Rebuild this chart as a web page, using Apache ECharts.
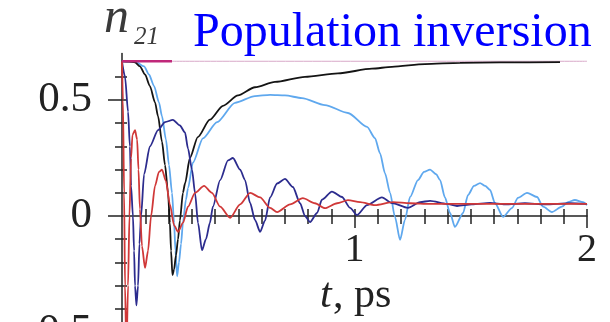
<!DOCTYPE html>
<html><head><meta charset="utf-8">
<script src="https://cdn.jsdelivr.net/npm/echarts@6/dist/echarts.min.js"></script>
<style>html,body{margin:0;padding:0;background:#fff}#c{width:610px;height:322px}</style>
</head><body><div id="c"></div>
<script>
// time (ps) and population inversion n21 for each curve
const tBlack = [0, 0.03, 0.056, 0.077, 0.099, 0.12, 0.142, 0.155, 0.172, 0.185, 0.198, 0.206, 0.211, 0.217, 0.224, 0.232, 0.241, 0.249, 0.262, 0.271, 0.292, 0.326, 0.378, 0.434, 0.499, 0.572, 0.658, 0.787, 0.929, 1.075, 1.161, 1.303, 1.454, 1.626, 1.884];
const nBlack = [0.667, 0.666, 0.662, 0.645, 0.61, 0.56, 0.49, 0.43, 0.32, 0.22, 0.1, -0.03, -0.15, -0.255, -0.23, -0.17, -0.1, -0.02, 0.1, 0.14, 0.25, 0.34, 0.415, 0.475, 0.52, 0.555, 0.578, 0.6, 0.615, 0.635, 0.643, 0.655, 0.66, 0.662, 0.663];

const tBlue = [0, 0.056, 0.095, 0.116, 0.138, 0.159, 0.172, 0.189, 0.202, 0.215, 0.224, 0.23, 0.237, 0.245, 0.254, 0.262, 0.275, 0.284, 0.305, 0.348, 0.409, 0.486, 0.572, 0.637, 0.701, 0.774, 0.873, 0.972, 1.054, 1.088, 1.11, 1.131, 1.153, 1.174, 1.196, 1.217, 1.239, 1.273, 1.299, 1.325, 1.351, 1.368, 1.389, 1.411, 1.432, 1.467, 1.488, 1.514, 1.54, 1.562, 1.583, 1.604, 1.639, 1.677, 1.703, 1.742, 1.785, 1.811, 1.849, 1.892, 1.918, 1.948, 1.983, 2.0];
const nBlue = [0.667, 0.666, 0.645, 0.61, 0.56, 0.49, 0.43, 0.33, 0.22, 0.1, -0.03, -0.15, -0.26, -0.2, -0.12, -0.03, 0.07, 0.12, 0.23, 0.335, 0.405, 0.488, 0.517, 0.522, 0.52, 0.508, 0.478, 0.444, 0.384, 0.336, 0.27, 0.185, 0.1, -0.004, -0.103, -0.017, 0.082, 0.155, 0.19, 0.2, 0.18, 0.155, 0.08, 0.013, -0.047, 0.013, 0.09, 0.13, 0.142, 0.13, 0.112, 0.056, -0.004, 0.034, 0.078, 0.1, 0.082, 0.04, 0.017, 0.04, 0.06, 0.069, 0.06, 0.047];

const tNavy = [0, 0.013, 0.026, 0.034, 0.039, 0.047, 0.052, 0.056, 0.062, 0.069, 0.075, 0.082, 0.095, 0.12, 0.155, 0.185, 0.219, 0.249, 0.271, 0.284, 0.301, 0.314, 0.327, 0.344, 0.361, 0.378, 0.391, 0.422, 0.456, 0.477, 0.508, 0.529, 0.551, 0.572, 0.594, 0.615, 0.637, 0.667, 0.701, 0.735, 0.766, 0.787, 0.809, 0.839, 0.86, 0.903, 0.946, 0.981, 1.011, 1.054, 1.118, 1.161, 1.23, 1.282, 1.325, 1.398, 1.441, 1.505, 1.583, 1.647, 1.733, 1.819, 1.927, 2.0];
const nNavy = [0.667, 0.6, 0.45, 0.3, 0.13, 0.0, -0.15, -0.3, -0.385, -0.3, -0.12, 0.0, 0.18, 0.3, 0.37, 0.405, 0.414, 0.39, 0.36, 0.29, 0.2, 0.1, -0.03, -0.148, -0.1, -0.03, 0.04, 0.155, 0.24, 0.25, 0.2, 0.155, 0.056, -0.017, -0.068, -0.02, 0.08, 0.14, 0.16, 0.125, 0.055, 0.0, -0.026, 0.013, 0.07, 0.105, 0.082, 0.035, 0.004, 0.047, 0.08, 0.056, 0.035, 0.06, 0.065, 0.052, 0.043, 0.05, 0.057, 0.05, 0.055, 0.05, 0.055, 0.052];

const tRed = [0, 0.004, 0.009, 0.013, 0.019, 0.026, 0.032, 0.039, 0.045, 0.056, 0.065, 0.071, 0.077, 0.086, 0.099, 0.112, 0.125, 0.142, 0.159, 0.172, 0.189, 0.206, 0.224, 0.241, 0.262, 0.284, 0.314, 0.353, 0.387, 0.422, 0.465, 0.508, 0.551, 0.594, 0.637, 0.667, 0.723, 0.778, 0.83, 0.873, 0.925, 0.972, 1.024, 1.088, 1.166, 1.239, 1.325, 2.0];
const nRed = [0.667, 0.5, 0.1, -0.3, -0.6, -0.3, 0.0, 0.25, 0.35, 0.37, 0.33, 0.2, 0.03, -0.13, -0.224, -0.15, 0.0, 0.13, 0.19, 0.2, 0.15, 0.05, -0.04, -0.068, -0.03, 0.04, 0.1, 0.13, 0.1, 0.04, -0.008, 0.05, 0.1, 0.08, 0.035, 0.017, 0.05, 0.077, 0.055, 0.034, 0.055, 0.068, 0.06, 0.047, 0.06, 0.055, 0.052, 0.052];

// initial level 2/3
const tPinkThick = [0, 0.215];
const nPinkThick = [0.667, 0.667];
const tPinkThin = [0.215, 2.0];
const nPinkThin = [0.667, 0.667];

// axis ticks / labels
const xMajorTicks = [1, 2];
const xMinorTicks = [0.1, 0.2, 0.3, 0.4, 0.5, 0.6, 0.7, 0.8, 0.9, 1.1, 1.2, 1.3, 1.4, 1.5, 1.6, 1.7, 1.8, 1.9];
const xAllTicks = [0.1, 0.2, 0.3, 0.4, 0.5, 0.6, 0.7, 0.8, 0.9, 1, 1.1, 1.2, 1.3, 1.4, 1.5, 1.6, 1.7, 1.8, 1.9, 2];
const yMajorTicks = [-0.5, 0, 0.5];
const yMinorTicks = [-0.6, -0.4, -0.3, -0.2, -0.1, 0.1, 0.2, 0.3, 0.4, 0.6];
const yAllTicks = [-0.6, -0.5, -0.4, -0.3, -0.2, -0.1, 0.1, 0.2, 0.3, 0.4, 0.5, 0.6];

const titleText = 'Population inversion';
const yName = 'n';
const ySub = '21';
const xNameItalic = 't';
const xNameRest = ', ps';

const zip = (t, n) => t.map((x, i) => [x, n[i]]);
const serif = 'Liberation Serif';
const ink = '#222';
const tickStyle = { color: ink, width: 1.5 };

const yMin = -0.6, yMax = 0.7;
const gridTop = 53.6, gridHeight = 301.6;
// shift of the labelled x axis from the grid bottom up to n21 = 0
const zeroOffset = -gridHeight * (0 - yMin) / (yMax - yMin);

const X = { type: 'value', min: 0, max: 2, splitLine: { show: false } };
const Y = { type: 'value', min: yMin, max: yMax, splitLine: { show: false } };

function line(t, n, color, width, z) {
  return { type: 'line', data: zip(t, n), showSymbol: false, symbol: 'none', smooth: 0.25, smoothMonotone: 'x',
    lineStyle: { color: color, width: width }, z: z, silent: true };
}

const chart = echarts.init(document.getElementById('c'), null, { renderer: 'canvas' });
chart.setOption({
  animation: false,
  backgroundColor: '#fff',
  grid: { left: 122, top: gridTop, width: 465, height: gridHeight, containLabel: false, outerBoundsMode: 'none' },
  xAxis: [
    Object.assign({}, X, { position: 'bottom', offset: zeroOffset,
      axisLine: { onZero: false, lineStyle: tickStyle },
      axisTick: { customValues: xMajorTicks, length: 12, lineStyle: tickStyle },
      axisLabel: { customValues: xMajorTicks, fontSize: 40, fontFamily: serif, color: ink, margin: 14 } }),
    Object.assign({}, X, { position: 'bottom',
      axisLine: { show: false, onZero: true, onZeroAxisIndex: 0 },
      axisTick: { customValues: xMinorTicks, length: 8, lineStyle: tickStyle },
      axisLabel: { show: false } }),
    Object.assign({}, X, { position: 'top',
      axisLine: { show: false, onZero: true, onZeroAxisIndex: 0 },
      axisTick: { customValues: xAllTicks, length: 7, lineStyle: tickStyle },
      axisLabel: { show: false } })
  ],
  yAxis: [
    Object.assign({}, Y, { position: 'left',
      axisLine: { onZero: true, onZeroAxisIndex: 0, lineStyle: tickStyle },
      axisTick: { customValues: yMajorTicks, length: 14, lineStyle: tickStyle },
      axisLabel: { customValues: yMajorTicks, fontSize: 43, fontFamily: serif, color: ink, margin: 30,
        formatter: v => String(v).replace('-', '\u2212') } }),
    Object.assign({}, Y, { position: 'left',
      axisLine: { show: false, onZero: true, onZeroAxisIndex: 0 },
      axisTick: { customValues: yMinorTicks, length: 7, lineStyle: tickStyle },
      axisLabel: { show: false } }),
    Object.assign({}, Y, { position: 'right',
      axisLine: { show: false, onZero: true, onZeroAxisIndex: 0 },
      axisTick: { customValues: yAllTicks, length: 5, lineStyle: tickStyle },
      axisLabel: { show: false } })
  ],
  series: [
    line(tPinkThin, nPinkThin, '#d8a8c8', 1, 1),
    line(tBlue, nBlue, '#5fa8ee', 1.8, 2),
    line(tBlack, nBlack, '#141414', 1.8, 3),
    line(tNavy, nNavy, '#2c2c8e', 1.8, 4),
    line(tRed, nRed, '#d03838', 1.8, 5),
    line(tPinkThick, nPinkThick, '#c0287a', 2.5, 6)
  ],
  graphic: [
    { type: 'text', left: 193, top: 9, style: { text: titleText, fontSize: 48, fontFamily: serif, fill: '#0000ff' } },
    { type: 'text', left: 104, top: -6, style: { text: yName, fontSize: 50, fontFamily: serif, fontStyle: 'italic', fill: '#3a3a3a' } },
    { type: 'text', left: 134, top: 25, style: { text: ySub, fontSize: 25, fontFamily: serif, fontStyle: 'italic', fill: '#3a3a3a' } },
    { type: 'text', left: 320, top: 275, style: { text: xNameItalic, fontSize: 42, fontFamily: serif, fontStyle: 'italic', fill: ink } },
    { type: 'text', left: 333, top: 275, style: { text: xNameRest, fontSize: 42, fontFamily: serif, fill: ink } }
  ]
});
</script></body></html>
